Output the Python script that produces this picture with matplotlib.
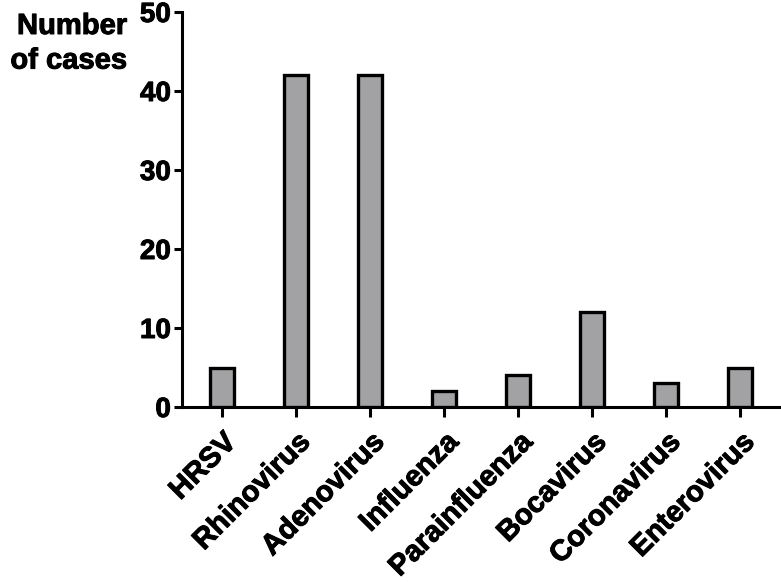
import matplotlib
matplotlib.use("Agg")
import matplotlib.pyplot as plt
import matplotlib.patheffects as pe

viruses = ["HRSV", "Rhinovirus", "Adenovirus", "Influenza",
           "Parainfluenza", "Bocavirus", "Coronavirus", "Enterovirus"]
cases = [5, 42, 42, 2, 4, 12, 3, 5]
y_ticks = [0, 10, 20, 30, 40, 50]

plt.rcParams['font.family'] = ['Liberation Sans', 'DejaVu Sans']
plt.rcParams['font.weight'] = 'bold'

# slightly heavier text, closer to the original bold Helvetica
heavy = [pe.withStroke(linewidth=0.7, foreground='black')]

fig = plt.figure(figsize=(7.81, 5.82), dpi=100)
ax = fig.add_axes([182 / 781, 1 - 407 / 582, 1 - 182 / 781, (407 - 12) / 582])

x = range(len(viruses))
ax.bar(x, cases, width=0.33, color='#a2a2a5', edgecolor='black', linewidth=2.4, zorder=3)

ax.set_xlim(-0.54, 7.55)
ax.set_ylim(0, 50)
ax.set_yticks(y_ticks)
ax.set_xticks(list(x))
ax.set_xticklabels(viruses, rotation=45, ha='right', rotation_mode='anchor',
                   fontsize=21, fontweight='bold')
ax.tick_params(axis='y', labelsize=20, width=2.2, length=6, pad=2)
ax.tick_params(axis='x', width=2.2, length=7, pad=8)
for lab in ax.get_yticklabels() + ax.get_xticklabels():
    lab.set_fontweight('bold')
    lab.set_path_effects(heavy)

ax.spines['top'].set_visible(False)
ax.spines['right'].set_visible(False)
ax.spines['left'].set_linewidth(2.2)
ax.spines['bottom'].set_linewidth(2.2)

fig.text(127 / 781, 1 - 12 / 582, "Number\nof cases", ha='right', va='top',
         multialignment='right', fontsize=21, fontweight='bold', linespacing=1.3,
         path_effects=heavy)

fig.savefig("out.png", dpi=100)
